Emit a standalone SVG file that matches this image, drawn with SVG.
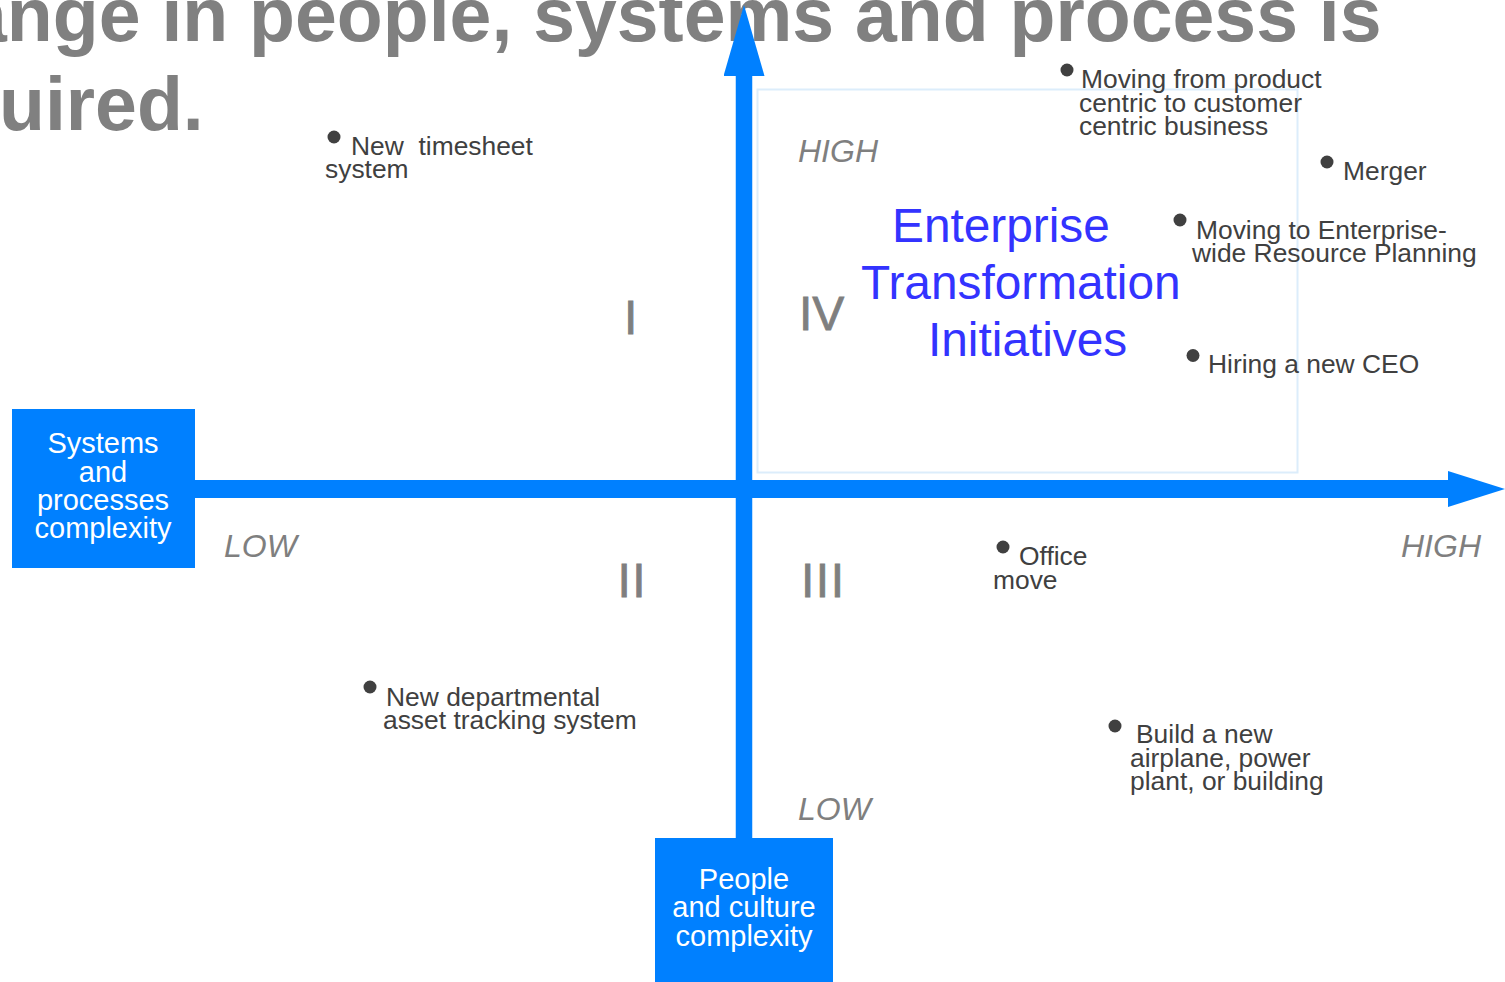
<svg xmlns="http://www.w3.org/2000/svg" width="1505" height="982" viewBox="0 0 1505 982">
  <style>
    text { font-family: "Liberation Sans", Arial, sans-serif; }
    .title { font-size: 75.2px; font-weight: bold; fill: #808080; }
    .item { font-size: 26.4px; fill: #404040; }
    .dot { fill: #404040; }
    .axis { font-size: 32px; font-style: italic; fill: #7f7f7f; }
    .quad { font-size: 48px; fill: #7f7f7f; stroke: #7f7f7f; stroke-width: 0.8px; letter-spacing: 1.5px; }
    .focus { font-size: 47.8px; fill: #3333ff; }
    .boxlabel { font-size: 29px; fill: #ffffff; text-anchor: middle; }
    .axisbox { fill: #0080ff; }
    .axisline { stroke: #0080ff; fill: none; }
  </style>
  <defs>
    <marker id="headRight" markerUnits="userSpaceOnUse" viewBox="0 0 57 36" markerWidth="57" markerHeight="36" refX="0" refY="18" orient="auto">
      <path d="M0,0 L57,18 L0,36 Z" fill="#0080ff"/>
    </marker>
    <marker id="headUp" markerUnits="userSpaceOnUse" viewBox="0 0 71 41" markerWidth="71" markerHeight="41" refX="0" refY="20.5" orient="auto">
      <path d="M0,0 L71,20.5 L0,41 Z" fill="#0080ff"/>
    </marker>
  </defs>

  <rect width="1505" height="982" fill="#ffffff"/>

  <!-- heading, running off the left edge -->
  <g id="heading">
    <text class="title" x="-35" y="41">ange in people, systems and process is</text>
    <text class="title" x="-1" y="130">uired.</text>
  </g>

  <!-- frame around the high/high quadrant -->
  <g id="quadrant-frame">
    <rect x="757.5" y="89.5" width="540" height="383" fill="none" stroke="#dcedfb" stroke-width="2"/>
  </g>

  <!-- axes -->
  <g id="connectors">
    <line class="axisline" x1="195" y1="489" x2="1448" y2="489" stroke-width="18" marker-end="url(#headRight)"/>
    <line class="axisline" x1="744" y1="838" x2="744" y2="76" stroke-width="16.5" marker-end="url(#headUp)"/>
  </g>

  <g id="systems-axis">
    <rect class="axisbox" x="12" y="409" width="183" height="159"/>
    <text class="boxlabel" x="103" y="453">Systems</text>
    <text class="boxlabel" x="103" y="481.5">and</text>
    <text class="boxlabel" x="103" y="510">processes</text>
    <text class="boxlabel" x="103" y="538">complexity</text>
  </g>

  <g id="people-axis">
    <rect class="axisbox" x="655" y="838" width="178" height="144"/>
    <text class="boxlabel" x="744" y="888.5">People</text>
    <text class="boxlabel" x="744" y="917">and culture</text>
    <text class="boxlabel" x="744" y="945.5">complexity</text>
  </g>

  <!-- scale labels -->
  <g id="scale-labels">
    <text class="axis" x="798" y="162">HIGH</text>
    <text class="axis" x="224" y="557">LOW</text>
    <text class="axis" x="1401" y="557">HIGH</text>
    <text class="axis" x="798" y="820">LOW</text>
  </g>

  <!-- quadrant numbers -->
  <g id="quadrant-numbers">
    <text class="quad" x="624" y="334">I</text>
    <text class="quad" x="617.5" y="597">II</text>
    <text class="quad" x="801" y="597">III</text>
    <text class="quad" x="799" y="330" style="letter-spacing:0">IV</text>
  </g>

  <g id="focus-label">
    <text class="focus" x="892" y="242">Enterprise</text>
    <text class="focus" x="861" y="299">Transformation</text>
    <text class="focus" x="928" y="356">Initiatives</text>
  </g>

  <!-- examples placed on the grid -->
  <g id="item-timesheet">
    <circle class="dot" cx="334" cy="137" r="6.5"/>
    <text class="item" x="351" y="155">New&#160; timesheet</text>
    <text class="item" x="325" y="178">system</text>
  </g>

  <g id="item-customer-centric">
    <circle class="dot" cx="1067" cy="70" r="6.5"/>
    <text class="item" x="1081" y="88">Moving from product</text>
    <text class="item" x="1079" y="111.5">centric to customer</text>
    <text class="item" x="1079" y="135">centric business</text>
  </g>

  <g id="item-merger">
    <circle class="dot" cx="1327" cy="162" r="6.5"/>
    <text class="item" x="1343" y="180">Merger</text>
  </g>

  <g id="item-erp">
    <circle class="dot" cx="1180" cy="220" r="6.5"/>
    <text class="item" x="1196" y="238.5">Moving to Enterprise-</text>
    <text class="item" x="1192" y="262">wide Resource Planning</text>
  </g>

  <g id="item-ceo">
    <circle class="dot" cx="1193" cy="355.5" r="6.5"/>
    <text class="item" x="1208" y="373">Hiring a new CEO</text>
  </g>

  <g id="item-office">
    <circle class="dot" cx="1003" cy="547" r="6.5"/>
    <text class="item" x="1019" y="565">Office</text>
    <text class="item" x="993" y="589">move</text>
  </g>

  <g id="item-build">
    <circle class="dot" cx="1115" cy="726" r="6.5"/>
    <text class="item" x="1136" y="743">Build a new</text>
    <text class="item" x="1130" y="767">airplane, power</text>
    <text class="item" x="1130" y="790">plant, or building</text>
  </g>

  <g id="item-asset-tracking">
    <circle class="dot" cx="370" cy="687" r="6.5"/>
    <text class="item" x="386" y="706">New departmental</text>
    <text class="item" x="383" y="729">asset tracking system</text>
  </g>
</svg>
